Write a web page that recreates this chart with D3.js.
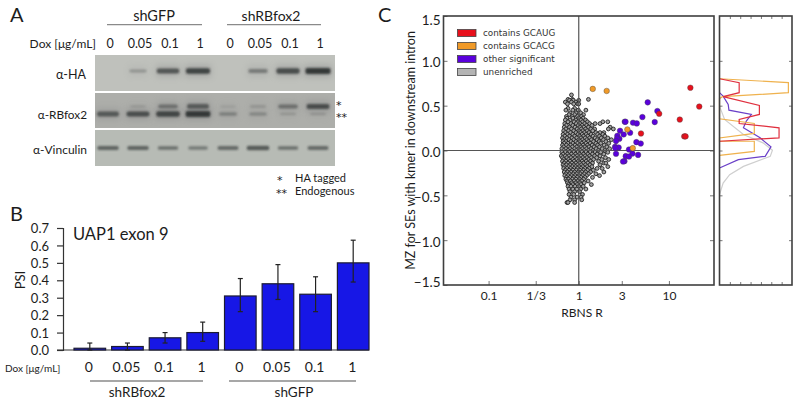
<!DOCTYPE html>
<html><head><meta charset="utf-8">
<script src="https://cdn.jsdelivr.net/npm/d3@7/dist/d3.min.js"></script>
<style>
html,body{margin:0;padding:0;background:#fff}
svg{display:block}
text{font-family:Lato,"Open Sans",sans-serif;fill:#1c1c1c}
</style></head><body>
<div id="c"></div>
<script>
// ---------- Panel A data ----------
const blotLanes = [0,1,2,3,4,5,6,7];
const topDose = ["0","0.05","0.1","1","0","0.05","0.1","1"];
const haBand = [0,0.22,0.68,0.82,0,0.4,0.75,0.92];
const rbLower = [0.62,0.72,0.78,0.9,0.28,0.24,0.1,0.1];
const rbUpper = [0,0.06,0.42,0.62,0.05,0.12,0.42,0.72];
const vinBand = [0.6,0.6,0.5,0.42,0.55,0.68,0.5,0.55];
// ---------- Panel B data ----------
const doseB = ["0","0.05","0.1","1","0","0.05","0.1","1"];
const psi = [0.01,0.02,0.07,0.10,0.31,0.38,0.32,0.50];
const psiLow = [0,0,0.04,0.05,0.22,0.29,0.22,0.39];
const psiHigh = [0.04,0.04,0.10,0.16,0.41,0.49,0.42,0.63];
const psiTicks = [0,0.1,0.2,0.3,0.4,0.5,0.6,0.7];
// ---------- Panel C data ----------
const rTicks = [0.1,1/3,1,3,10];
const rTickLabels = ["0.1","1/3","1","3","10"];
const mzTicks = [1.5,1,0.5,0,-0.5,-1,-1.5];
const legendLabels = ["contains GCAUG","contains GCACG","other significant","unenriched"];
const redPts = [[17.3,0.70],[21.7,0.49],[7.8,0.41],[13.2,0.345],[4.9,0.19],[14.8,0.157],[15.3,0.157]];
const orangePts = [[1.43,0.687],[2.04,0.664],[3.46,0.235],[3.97,0.026]];
const purplePts = [[5.82,0.537],[7.45,0.44],[5.08,0.373],[6.96,0.317],[3.24,0.321],[3.3,0.321],[4.0,0.31],[4.4,0.302],[2.87,0.22],[3.71,0.198],[3.15,0.179],[2.68,0.164],[2.82,0.131],[2.66,0.134],[2.59,0.105],[2.53,0.041],[2.77,0.034],[2.55,0.026],[4.36,0.093],[4.87,0.078],[3.61,0.011],[2.59,-0.037],[3.94,-0.034],[4.55,-0.049],[3.32,-0.063],[3.61,-0.067],[3.21,-0.119],[3.1,-0.123]];
const grayRows = [
[0.62,[0.83]],[0.57,[0.76,0.85,1.28]],[0.56,[0.79,0.87,1.0]],[0.54,[0.71,0.83,0.93]],[0.52,[0.75,0.88,0.97,1.0]],
[0.47,[0.76,0.9]],[0.45,[0.72,0.86,0.99,1.2]],[0.42,[0.8,0.93,1.05]],[0.40,[0.78,0.9,1.13]],[0.38,[0.73,0.85,0.97,1.07]],
[0.36,[0.74,0.86,1.0,1.12]],[0.34,[0.71,0.80,0.93,1.06,1.19]],[0.32,[0.76,0.89,0.98,1.1,1.25,1.85,2.1]],
[0.30,[0.70,0.82,0.94,1.03,1.16,1.32,1.52,1.72]],[0.28,[0.73,0.86,0.99,1.09,1.22,1.4]],[0.26,[0.69,0.79,0.91,1.04,1.14,1.28,2.23]],
[0.24,[0.72,0.83,0.96,1.07,1.19,1.36,1.5,2.13,2.42]],[0.22,[0.68,0.77,0.88,1.0,1.11,1.24,1.43]],[0.20,[0.71,0.81,0.93,1.05,1.16,1.3,1.55,1.72,1.9]],
[0.18,[0.67,0.75,0.86,0.98,1.09,1.21,1.37,1.62,1.85]],[0.16,[0.70,0.79,0.9,1.02,1.13,1.26,1.44,1.7,1.95]],[0.14,[0.66,0.74,0.84,0.95,1.06,1.18,1.32,1.52,1.78,2.1]],
[0.12,[0.69,0.78,0.88,1.0,1.1,1.23,1.38,1.6,1.88,2.3]],[0.10,[0.67,0.72,0.82,0.93,1.04,1.15,1.28,1.46,1.68,2.0]],[0.08,[0.69,0.76,0.86,0.97,1.08,1.2,1.34,1.55,1.75,2.15]],
[0.06,[0.66,0.73,0.81,0.91,1.02,1.12,1.25,1.41,1.62,1.92]],[0.04,[0.68,0.77,0.85,0.95,1.06,1.17,1.3,1.48,1.7,2.05]],[0.02,[0.65,0.72,0.8,0.9,1.0,1.1,1.22,1.37,1.56,1.82,2.2]],
[0,[0.68,0.76,0.84,0.94,1.04,1.15,1.28,1.44,1.65,1.95]],[-0.02,[0.65,0.71,0.79,0.88,0.98,1.08,1.2,1.34,1.52,1.75,2.1]],[-0.04,[0.67,0.75,0.83,0.92,1.02,1.13,1.26,1.42,1.6,1.9]],
[-0.06,[0.64,0.71,0.78,0.87,0.96,1.06,1.18,1.32,1.5,1.72]],[-0.08,[0.66,0.74,0.82,0.91,1.0,1.11,1.23,1.38,1.58,1.98]],[-0.10,[0.68,0.77,0.86,0.95,1.05,1.16,1.29,1.46,1.8,2.15]],
[-0.12,[0.66,0.72,0.8,0.89,0.99,1.09,1.21,1.35,1.66]],[-0.14,[0.69,0.76,0.84,0.93,1.03,1.13,1.26,1.42,1.9,2.0]],[-0.16,[0.67,0.73,0.8,0.88,0.97,1.07,1.19,1.33,1.72]],
[-0.18,[0.69,0.77,0.85,0.92,1.01,1.11,1.24,1.4,2.1]],[-0.20,[0.68,0.74,0.81,0.89,0.97,1.06,1.17,1.3,1.6,1.82]],[-0.22,[0.71,0.78,0.86,0.94,1.03,1.13,1.25,1.45]],
[-0.24,[0.69,0.75,0.82,0.9,0.99,1.08,1.19,1.35,1.9]],[-0.26,[0.72,0.79,0.87,0.95,1.04,1.15,1.28,1.55]],[-0.28,[0.7,0.76,0.83,0.91,1.0,1.1,1.22,1.7]],
[-0.30,[0.73,0.8,0.88,0.96,1.06,1.17,1.42]],[-0.32,[0.72,0.77,0.85,0.93,1.02,1.13]],[-0.34,[0.74,0.81,0.89,0.98,1.08,1.27]],
[-0.36,[0.75,0.84,0.93,1.03,1.15]],[-0.38,[0.77,0.86,0.96,1.06,1.38]],[-0.40,[0.76,0.82,0.91,1.0,1.12]],[-0.43,[0.78,0.86,0.95,1.05,1.2]],
[-0.46,[0.8,0.9,1.02]],[-0.49,[0.78,0.88,1.1]],[-0.52,[0.82,0.96,1.06]],[-0.55,[0.8,0.9,1.08]],[-0.58,[0.74,0.76,0.9]]
];
const densRed = [[0,0.80],[0.19,0.757],[0.19,0.645],[0.035,0.60],[0.385,0.503],[0.385,0.402],[0.19,0.346],[0.19,0.301],[0.575,0.253],[0.575,0.141],[0,0.103]];
const densOrange = [[0,0.80],[0.665,0.757],[0.665,0.645],[0.028,0.60],[0,0.578],[0,0.354],[0.336,0.301],[0.336,0.19],[0,0.14],[0,0.103],[0.336,0.103],[0.336,-0.01],[0,-0.054]];
const densPurple = [[0,0.645],[0.035,0.607],[0.084,0.514],[0.091,0.45],[0.308,0.402],[0.259,0.327],[0.231,0.253],[0.392,0.141],[0.497,0.04],[0.441,-0.065],[0.182,-0.102],[0,-0.195]];
const densGray = [[0,0.495],[0.049,0.346],[0.231,0.178],[0.42,0.085],[0.511,0.003],[0.49,-0.065],[0.231,-0.177],[0.098,-0.27],[0.035,-0.363],[0,-0.494]];
const densTicks = [0.1,0.2,0.3,0.4,0.5,0.6];

const W=800,H=405;
const svg=d3.select("#c").append("svg").attr("width",W).attr("height",H);
const T=(x,y,s,size,anchor)=>svg.append("text").attr("x",x).attr("y",y).attr("font-size",size).attr("text-anchor",anchor||"start").text(s);
const defs=svg.append("defs");
defs.append("filter").attr("id","b1").attr("x","-30%").attr("y","-150%").attr("width","160%").attr("height","400%").append("feGaussianBlur").attr("stdDeviation",1.1);
defs.append("filter").attr("id","b3").attr("x","-50%").attr("y","-200%").attr("width","200%").attr("height","500%").append("feGaussianBlur").attr("stdDeviation",3);

// ===== Panel A =====
T(10,22,"A",20);
T(154,21,"shGFP",14.5,"middle"); T(271,21,"shRBfox2",14,"middle");
const hGroup=(x1,x2,y)=>svg.append("line").attr("x1",x1).attr("x2",x2).attr("y1",y).attr("y2",y).attr("stroke","#8a8a8a").attr("stroke-width",1.3);
hGroup(107,202,24.7); hGroup(227,321,24.7);
T(96,48,"Dox [μg/mL]",12,"end");
const lane=d3.scaleLinear().domain([0,7]).range([108,318]);
svg.selectAll(null).data(topDose).join("text").attr("x",(d,i)=>lane(i)+2).attr("y",48).attr("font-size",12.5).attr("text-anchor","middle").text(d=>d);
const bandW=d3.scaleLinear().domain([0,1]).range([15,26]);
const bandH=d3.scaleLinear().domain([0,1]).range([2,6.5]);
const bandA=d3.scaleLinear().domain([0,1]).range([0.08,0.92]);
const blots=[
 {y:55,h:36,bg:"#bfc1bc",rows:[{vals:haBand,cy:71}]},
 {y:93,h:35,bg:"#adaeaa",rows:[{vals:rbUpper,cy:106.5},{vals:rbLower,cy:114}]},
 {y:130,h:36,bg:"#b7bbb5",rows:[{vals:vinBand,cy:148}]}
];
blots.forEach((b,k)=>{
 const id="clip"+k;
 defs.append("clipPath").attr("id",id).append("rect").attr("x",95).attr("y",b.y).attr("width",240).attr("height",b.h);
 svg.append("rect").attr("x",95).attr("y",b.y).attr("width",240).attr("height",b.h).attr("fill",b.bg);
 const g=svg.append("g").attr("clip-path",`url(#${id})`);
 b.rows.forEach(r=>{
  const sh=k===2?0.85:1;
  blotLanes.forEach(i=>{
   const v=r.vals[i]; if(!v)return;
   const x=lane(i);
   if(k<2) g.append("rect").attr("x",x-bandW(v)/2-1).attr("y",r.cy-6).attr("width",bandW(v)+2).attr("height",12).attr("fill","#77787a").attr("opacity",v*0.4).attr("filter","url(#b3)");
   g.append("rect").attr("x",x-bandW(v)/2).attr("y",r.cy-bandH(v)*sh/2).attr("width",bandW(v)).attr("height",bandH(v)*sh).attr("rx",2)
    .attr("fill","#242525").attr("opacity",bandA(v)).attr("filter","url(#b1)");
  });
 });
});
T(86,79,"α-HA",12.5,"end"); T(87,119,"α-RBfox2",11.8,"end"); T(87,154,"α-Vinculin",12,"end");
const star=(x,y,s,size)=>T(x,y,s,size).style("font-family","'DejaVu Sans'");
star(336,109,"*",11); star(336,121,"**",11);
star(277,184,"*",11); T(295,181.5,"HA tagged",11);
star(276,197,"**",11); T(295,195,"Endogenous",11);

// ===== Panel B =====
T(10,221,"B",20);
const xB=d3.scaleBand().domain(d3.range(8)).range([74,369]).paddingInner(0.16);
const yB=d3.scaleLinear().domain([0,0.7]).range([350,228]);
const axB=svg.append("g").attr("transform","translate(63,0)").call(d3.axisLeft(yB).tickValues(psiTicks).tickFormat(d3.format(".1f")).tickSize(6).tickPadding(8));
axB.selectAll("path,line").attr("stroke","#333").attr("stroke-width",1.2);
axB.selectAll("text").attr("font-size",13).attr("fill","#1c1c1c").style("font-family","Lato").attr("dy","0.36em");
svg.append("line").attr("x1",57).attr("x2",369).attr("y1",yB(0)).attr("y2",yB(0)).attr("stroke","#333").attr("stroke-width",1);
svg.selectAll(null).data(psi).join("rect").attr("x",(d,i)=>xB(i)).attr("y",d=>yB(d)).attr("width",xB.bandwidth()).attr("height",d=>yB(0)-yB(d))
 .attr("fill","#1717e6").attr("stroke","#1c1c33").attr("stroke-width",1.2);
const eb=svg.append("g").attr("stroke","#222").attr("stroke-width",1.2);
psi.forEach((d,i)=>{
 const c=xB(i)+xB.bandwidth()/2;
 eb.append("line").attr("x1",c).attr("x2",c).attr("y1",yB(psiLow[i])).attr("y2",yB(psiHigh[i]));
 [psiLow[i],psiHigh[i]].forEach(v=>eb.append("line").attr("x1",c-2.5).attr("x2",c+2.5).attr("y1",yB(v)).attr("y2",yB(v)));
});
T(73,240,"UAP1 exon 9",16.5);
svg.append("text").attr("transform","translate(25,280) rotate(-90)").attr("text-anchor","middle").attr("font-size",13).text("PSI");
T(5,372,"Dox [μg/mL]",10);
svg.selectAll(null).data(doseB).join("text").attr("x",(d,i)=>xB(i)+xB.bandwidth()/2-1).attr("y",372).attr("font-size",14).attr("text-anchor","middle").text(d=>d);
hGroup(90,203,381); hGroup(229,356,381);
T(137,397,"shRBfox2",13.5,"middle"); T(294,397,"shGFP",13.5,"middle");

// ===== Panel C =====
T(378,22,"C",20);
const L=443.5,R=714,Tp=16,Bt=285,L2=719.5,R2=792;
const xC=d3.scaleLog().domain([10**-1.5,10**1.5]).range([L,R]);
const yC=d3.scaleLinear().domain([-1.5,1.5]).range([Bt,Tp]);
const dC=d3.scaleLinear().domain([0,0.7]).range([L2,R2]);
const grayPts=grayRows.flatMap(([y,rs])=>rs.map(r=>[r,y]));
svg.append("g").selectAll("circle").data(grayPts).join("circle").attr("cx",d=>xC(d[0])).attr("cy",d=>yC(d[1])).attr("r",1.9).attr("fill","#a2a2a2").attr("stroke","#222").attr("stroke-width",0.9);
svg.append("line").attr("x1",L).attr("x2",R).attr("y1",yC(0)).attr("y2",yC(0)).attr("stroke","#555").attr("stroke-width",1.2);
svg.append("line").attr("x1",xC(1)).attr("x2",xC(1)).attr("y1",Tp).attr("y2",Bt).attr("stroke","#555").attr("stroke-width",1.2);
const dots=(data,c)=>svg.append("g").selectAll("circle").data(data).join("circle").attr("cx",d=>xC(d[0])).attr("cy",d=>yC(d[1])).attr("r",2.8).attr("fill",c).attr("stroke","#444").attr("stroke-width",0.4);
dots(purplePts,"#5a00dc"); dots(redPts,"#e8101c"); dots(orangePts,"#f09a28");
const styleAxis=g=>{g.selectAll("path").attr("stroke","none");g.selectAll("line").attr("stroke","#555").attr("stroke-width",0.8);g.selectAll("text").style("font-family","Lato").attr("fill","#1c1c1c");};
const ax1=svg.append("g").attr("transform",`translate(0,${Bt})`).call(d3.axisBottom(xC).tickValues(rTicks).tickFormat((d,i)=>rTickLabels[i]).tickSizeInner(-4).tickSizeOuter(0).tickPadding(6)).call(styleAxis);
ax1.selectAll("text").attr("font-size",12);
const ax2=svg.append("g").attr("transform",`translate(${L},0)`).call(d3.axisLeft(yC).tickValues(mzTicks).tickFormat(d3.format(".1f")).tickSizeInner(-4).tickSizeOuter(0).tickPadding(3)).call(styleAxis);
ax2.selectAll("text").attr("font-size",13.5).attr("dy",d=>d===1.5?"0.6em":d===-1.5?"0.1em":"0.45em");
svg.append("g").attr("transform",`translate(${R},0)`).call(d3.axisRight(yC).tickValues(mzTicks.slice(1,-1)).tickFormat("").tickSizeInner(-4).tickSizeOuter(0)).call(styleAxis);
// legend
const legendColors=["#e8101c","#f09a28","#5a00dc","#b4b4b4"];
const legY=d3.scalePoint().domain(d3.range(4)).range([33,72]);
legendLabels.forEach((s,i)=>{
 svg.append("rect").attr("x",457.5).attr("y",legY(i)-3.5).attr("width",18.5).attr("height",7).attr("fill",legendColors[i]).attr("stroke","#444").attr("stroke-width",0.8);
 svg.append("text").attr("x",483).attr("y",legY(i)+3.2).attr("font-size",8.8).style("font-family","'DejaVu Sans'").style("fill","#333").text(s);
});
svg.append("text").attr("transform",`translate(415,${yC(0)}) rotate(-90)`).attr("text-anchor","middle").attr("font-size",12.5).text("MZ for SEs with kmer in downstream intron");
T(582,317,"RBNS R",12,"middle");
// density panel
const ln=d3.line().x(d=>dC(d[0])).y(d=>yC(d[1]));
[[densGray,"#cfcfcf"],[densPurple,"#6a40c8"],[densOrange,"#efb24e"],[densRed,"#e0303f"]].forEach(([d,c])=>
 svg.append("path").attr("d",ln(d)).attr("fill","none").attr("stroke",c).attr("stroke-width",1.2));
const da=(sel,axis)=>sel.call(axis).call(styleAxis);
da(svg.append("g").attr("transform",`translate(0,${Bt})`),d3.axisBottom(dC).tickValues(densTicks).tickFormat("").tickSizeInner(-3).tickSizeOuter(0));
da(svg.append("g").attr("transform",`translate(0,${Tp})`),d3.axisTop(dC).tickValues(densTicks).tickFormat("").tickSizeInner(-3).tickSizeOuter(0));
da(svg.append("g").attr("transform",`translate(${L2},0)`),d3.axisLeft(yC).tickValues(mzTicks.slice(1,-1)).tickFormat("").tickSizeInner(-3).tickSizeOuter(0));
da(svg.append("g").attr("transform",`translate(${R2},0)`),d3.axisRight(yC).tickValues(mzTicks.slice(1,-1)).tickFormat("").tickSizeInner(-3).tickSizeOuter(0));
// frames
[[L,R],[L2,R2]].forEach(([a,b])=>svg.append("rect").attr("x",a).attr("y",Tp).attr("width",b-a).attr("height",Bt-Tp).attr("fill","none").attr("stroke","#3f3f3f").attr("stroke-width",1.6));
</script>
</body></html>
